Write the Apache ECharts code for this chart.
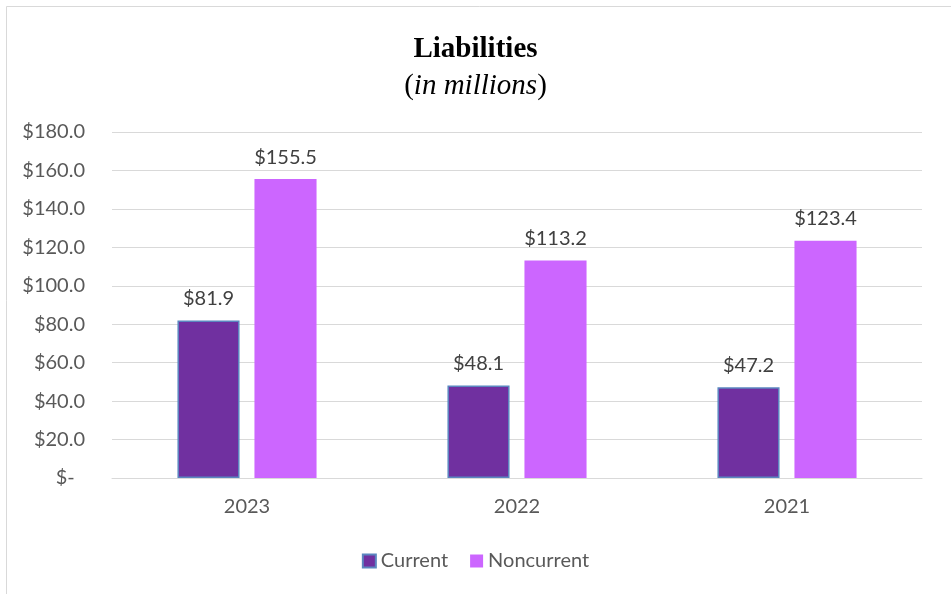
<!DOCTYPE html>
<html>
<head>
<meta charset="utf-8">
<script src="https://cdn.jsdelivr.net/npm/echarts@6/dist/echarts.min.js"></script>
<style>
  html, body { margin: 0; padding: 0; background: #fff; }
  #chart { width: 951px; height: 594px; }
</style>
</head>
<body>
<div id="chart"></div>
<script>
const years = ["2023", "2022", "2021"];
const current = [81.9, 48.1, 47.2];
const noncurrent = [155.5, 113.2, 123.4];
const yMax = 180;
const yStep = 20;

const labelFont = "Lato, Open Sans, sans-serif";
const money = v => "$" + v.toFixed(1);
const serif = "Liberation Serif, serif";

const chart = echarts.init(document.getElementById("chart"));
chart.setOption({
  backgroundColor: "#fff",
  animation: false,
  graphic: [{
    type: "rect",
    shape: { x: 6.5, y: 6.5, width: 1000, height: 1000 },
    style: { fill: "none", stroke: "#d9d9d9", lineWidth: 1 }
  }],
  title: {
    left: "center",
    top: 26,
    text: "{b|Liabilities}\n{p|(}{i|in millions}{p|)}",
    textStyle: {
      rich: {
        b: { fontFamily: serif, fontWeight: "bold", fontSize: 29, color: "#000", lineHeight: 37 },
        p: { fontFamily: serif, fontWeight: "normal", fontSize: 29, color: "#000", lineHeight: 37 },
        i: { fontFamily: serif, fontWeight: "normal", fontStyle: "italic", fontSize: 29, color: "#000", lineHeight: 37 }
      }
    }
  },
  grid: { left: 112, right: 29, top: 132, bottom: 116 },
  legend: {
    bottom: 18,
    left: "center",
    icon: "rect",
    itemWidth: 13,
    itemHeight: 13,
    itemGap: 22,
    textStyle: { fontFamily: labelFont, fontSize: 20, color: "#595959" },
    data: ["Current", "Noncurrent"]
  },
  xAxis: {
    type: "category",
    data: years,
    axisLine: { lineStyle: { color: "#d9d9d9", width: 1 } },
    axisTick: { show: false },
    axisLabel: { fontFamily: labelFont, fontSize: 20, color: "#595959", margin: 19 }
  },
  yAxis: {
    type: "value",
    min: 0,
    max: yMax,
    interval: yStep,
    axisLine: { show: false },
    axisTick: { show: false },
    splitLine: { lineStyle: { color: "#d9d9d9", width: 1 } },
    axisLabel: {
      fontFamily: labelFont,
      fontSize: 20,
      color: "#595959",
      margin: 27,
      formatter: v => (v === 0 ? "$-  " : money(v))
    }
  },
  series: [
    {
      name: "Current",
      type: "bar",
      data: current,
      barWidth: "23%",
      barGap: "24%",
      itemStyle: { color: "#7030A0", borderColor: "#5B86C0", borderWidth: 1.5 },
      label: {
        show: true,
        position: "top",
        distance: 12,
        fontFamily: labelFont,
        fontSize: 20,
        color: "#404040",
        formatter: p => money(p.value)
      }
    },
    {
      name: "Noncurrent",
      type: "bar",
      data: noncurrent,
      barWidth: "23%",
      itemStyle: { color: "#CC66FF" },
      label: {
        show: true,
        position: "top",
        distance: 12,
        fontFamily: labelFont,
        fontSize: 20,
        color: "#404040",
        formatter: p => money(p.value)
      }
    }
  ]
});
</script>
</body>
</html>
